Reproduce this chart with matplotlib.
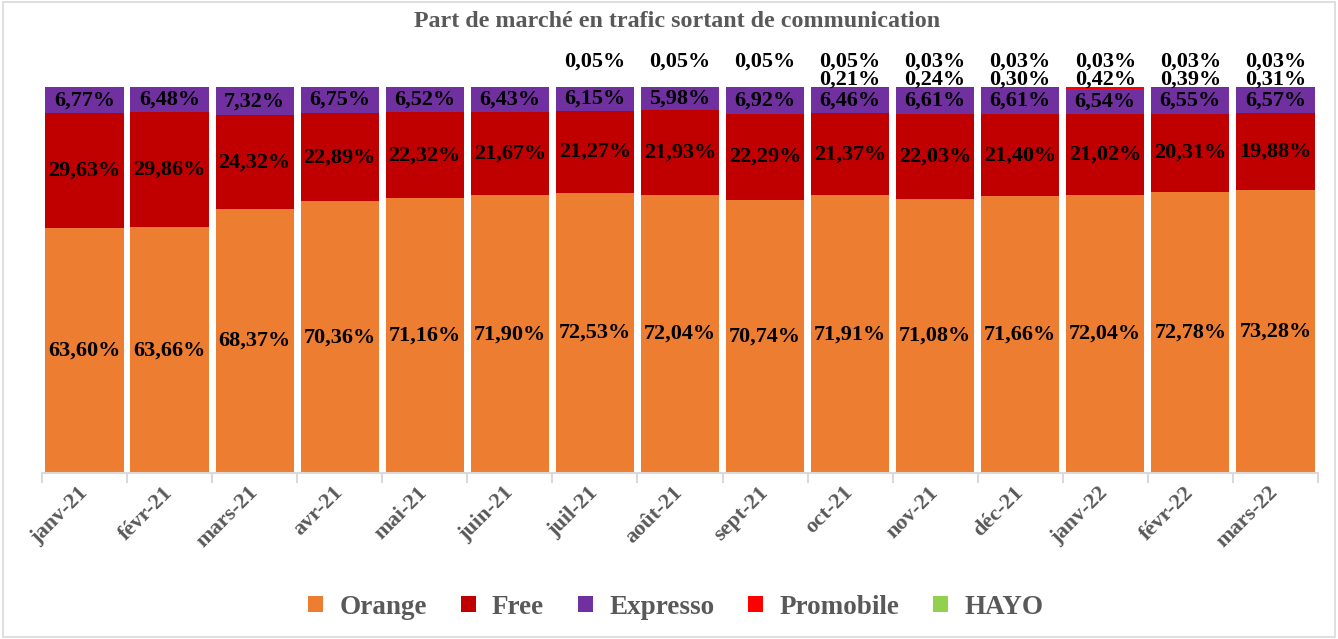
import matplotlib
matplotlib.use("Agg")
from matplotlib import pyplot as plt
import matplotlib.patches as patches
import numpy as np

months = ["janv-21", "févr-21", "mars-21", "avr-21", "mai-21", "juin-21", "juil-21",
          "août-21", "sept-21", "oct-21", "nov-21", "déc-21", "janv-22", "févr-22", "mars-22"]

orange = [63.60, 63.66, 68.37, 70.36, 71.16, 71.90, 72.53, 72.04, 70.74, 71.91, 71.08, 71.66, 72.04, 72.78, 73.28]
free = [29.63, 29.86, 24.32, 22.89, 22.32, 21.67, 21.27, 21.93, 22.29, 21.37, 22.03, 21.40, 21.02, 20.31, 19.88]
expresso = [6.77, 6.48, 7.32, 6.75, 6.52, 6.43, 6.15, 5.98, 6.92, 6.46, 6.61, 6.61, 6.54, 6.55, 6.57]
promobile = [0, 0, 0, 0, 0, 0, 0, 0, 0, 0.21, 0.24, 0.30, 0.42, 0.39, 0.31]
hayo = [0, 0, 0, 0, 0, 0, 0.05, 0.05, 0.05, 0.05, 0.03, 0.03, 0.03, 0.03, 0.03]

series = [
    ("Orange", orange, "#ED7D31"),
    ("Free", free, "#C00000"),
    ("Expresso", expresso, "#7030A0"),
    ("Promobile", promobile, "#FF0000"),
    ("HAYO", hayo, "#92D050"),
]

plt.rcParams["font.family"] = ["Liberation Serif", "DejaVu Serif"]
plt.rcParams["font.weight"] = "bold"

GRAY = "#595959"


def pct(v):
    return ("%.2f%%" % v).replace(".", ",")


fig = plt.figure(figsize=(13.38, 6.39), dpi=100)
ax = fig.add_axes([0.0314, 0.2598, 0.9536, 0.604])

x = np.arange(len(months))
bottom = np.zeros(len(months))
for name, vals, color in series:
    vals = np.array(vals)
    ax.bar(x, vals, 0.92, bottom=bottom, color=color, label=name, linewidth=0)
    bottom = bottom + vals

# labels inside the big segments
base = np.zeros(len(months))
for name, vals, color in series[:3]:
    for i, v in enumerate(vals):
        ax.text(x[i], base[i] + v / 2, pct(v), ha="center", va="center",
                fontsize=16, fontweight="bold", color="black")
    base = base + np.array(vals)

# small segments: labels stacked above the bar (they overlap in the original too)
for i in range(len(months)):
    if promobile[i] > 0:
        ax.text(x[i], 102.0, pct(promobile[i]), ha="center", va="center",
                fontsize=16, fontweight="bold", color="black", clip_on=False)
    if hayo[i] > 0:
        ax.text(x[i], 106.6, pct(hayo[i]), ha="center", va="center",
                fontsize=16, fontweight="bold", color="black", clip_on=False)

ax.set_xlim(-0.5, len(months) - 0.5)
ax.set_ylim(0, 100)
ax.set_yticks([])
for s in ["top", "right", "left"]:
    ax.spines[s].set_visible(False)
ax.spines["bottom"].set_color("#D9D9D9")
ax.spines["bottom"].set_linewidth(1.5)

ax.set_xticks(x)
ax.set_xticklabels(months, rotation=45, ha="right", va="center", rotation_mode="anchor",
                   fontsize=16, fontweight="bold", color=GRAY)
ax.tick_params(axis="x", which="major", length=0, pad=12)
ax.set_xticks(np.arange(-0.5, len(months), 1.0), minor=True)
ax.tick_params(axis="x", which="minor", length=7, color="#D9D9D9", width=1.5)

fig.text(0.506, 0.9656, "Part de marché en trafic sortant de communication",
         ha="center", va="center", fontsize=17.3, fontweight="bold", color=GRAY)

leg = fig.legend(loc="center", bbox_to_anchor=(0.505, 0.05), ncol=5, frameon=False,
                 handlelength=0.55, handleheight=0.55, handletextpad=0.6, columnspacing=1.25,
                 prop={"size": 19.5, "weight": "bold"})
for t in leg.get_texts():
    t.set_color(GRAY)

fig.patches.append(patches.Rectangle((0.002, 0.003), 0.996, 0.994, transform=fig.transFigure,
                                     fill=False, edgecolor="#D9D9D9", linewidth=1.2))

fig.savefig("out.png", dpi=100)
